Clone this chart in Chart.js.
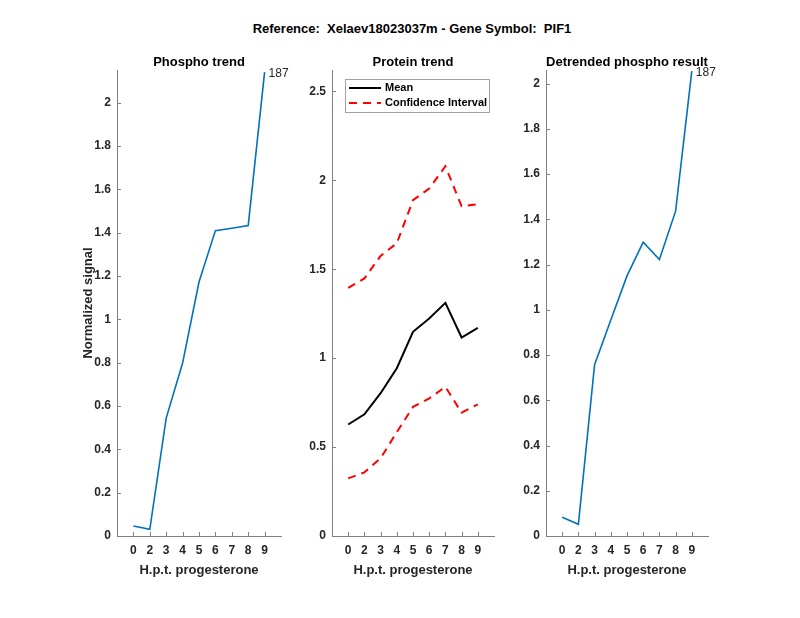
<!DOCTYPE html>
<html>
<head>
<meta charset="utf-8">
<script src="https://cdn.jsdelivr.net/npm/chart.js@4.4.1/dist/chart.umd.min.js"></script>
<style>
	html, body { margin: 0; padding: 0; background: #fff; }
	#fig { position: relative; width: 800px; height: 618px; overflow: hidden; background: #fff; }
	#fig canvas { position: absolute; }
	#supTitle {
		position: absolute; left: 0; width: 824px; top: 21px; text-align: center;
		font: bold 13px "Liberation Sans", Arial, sans-serif; color: #000; white-space: pre;
	}
</style>
</head>
<body>
<div id="fig">
	<div id="supTitle">Reference:  Xelaev18023037m - Gene Symbol:  PIF1</div>
	<canvas id="cPhospho" width="300" height="560" style="left:20px;top:40px"></canvas>
	<canvas id="cProtein" width="220" height="560" style="left:300px;top:40px"></canvas>
	<canvas id="cDetrend" width="270" height="560" style="left:515px;top:40px"></canvas>
</div>
<script>
(function () {
	'use strict';

	// x positions 1..9 on an axis running 0..10, labelled with hours
	var xPos = [1, 2, 3, 4, 5, 6, 7, 8, 9];
	var xLabels = ['0', '2', '3', '4', '5', '6', '7', '8', '9'];

	var phospho = [0.046, 0.031, 0.544, 0.798, 1.172, 1.409, 1.42, 1.432, 2.14];
	var proteinMean = [0.627, 0.684, 0.803, 0.943, 1.148, 1.223, 1.311, 1.116, 1.170];
	var proteinUpper = [1.395, 1.448, 1.575, 1.646, 1.888, 1.953, 2.079, 1.854, 1.865];
	var proteinLower = [0.324, 0.358, 0.437, 0.584, 0.726, 0.773, 0.839, 0.693, 0.740];
	var detrended = [0.083, 0.052, 0.757, 0.955, 1.150, 1.299, 1.222, 1.436, 2.055];
	var peakLabel = '187';

	var phosphoTicks = [0, 0.2, 0.4, 0.6, 0.8, 1, 1.2, 1.4, 1.6, 1.8, 2];
	var proteinTicks = [0, 0.5, 1, 1.5, 2, 2.5];
	var detrendTicks = [0, 0.2, 0.4, 0.6, 0.8, 1, 1.2, 1.4, 1.6, 1.8, 2];

	var FONT = '"Liberation Sans", Arial, sans-serif';
	var AXIS_COLOR = '#808080';
	var TEXT_COLOR = '#262626';
	var BLUE = '#0072BD';

	Chart.defaults.font.family = FONT;
	Chart.defaults.color = TEXT_COLOR;

	function pts(arr) {
		return arr.map(function (v, i) { return { x: xPos[i], y: v }; });
	}

	// inward tick marks + panel title + optional end label + optional legend
	var matlabLook = {
		id: 'matlabLook',
		afterDraw: function (chart, args, opts) {
			var ctx = chart.ctx;
			var area = chart.chartArea;
			var xs = chart.scales.x;
			var ys = chart.scales.y;
			ctx.save();
			ctx.strokeStyle = AXIS_COLOR;
			ctx.lineWidth = 1;
			ctx.beginPath();
			xs.ticks.forEach(function (t) {
				var px = Math.round(xs.getPixelForValue(t.value)) + 0.5;
				ctx.moveTo(px, area.bottom);
				ctx.lineTo(px, area.bottom - 4);
			});
			ys.ticks.forEach(function (t) {
				var py = Math.round(ys.getPixelForValue(t.value)) + 0.5;
				ctx.moveTo(area.left, py);
				ctx.lineTo(area.left + 4, py);
			});
			ctx.stroke();

			ctx.fillStyle = '#000';
			ctx.font = 'bold 13px ' + FONT;
			ctx.textAlign = 'center';
			ctx.textBaseline = 'bottom';
			ctx.fillText(opts.title, (area.left + area.right) / 2, area.top - 1);

			if (opts.endLabel) {
				var meta = chart.getDatasetMeta(0);
				var last = meta.data[meta.data.length - 1];
				ctx.font = '12px ' + FONT;
				ctx.textAlign = 'left';
				ctx.textBaseline = 'middle';
				ctx.fillStyle = TEXT_COLOR;
				ctx.fillText(opts.endLabel, last.x + 4, last.y + 2);
			}

			if (opts.legend) {
				var lx = area.left + 13, ly = area.top + 9, lw = 144, lh = 33;
				ctx.fillStyle = '#fff';
				ctx.fillRect(lx, ly, lw, lh);
				ctx.strokeStyle = '#a0a0a0';
				ctx.strokeRect(lx + 0.5, ly + 0.5, lw, lh);
				ctx.font = 'bold 11px ' + FONT;
				ctx.textAlign = 'left';
				ctx.textBaseline = 'middle';
				opts.legend.forEach(function (item, i) {
					var ds = chart.data.datasets[item.ds];
					var cy = ly + 9 + i * 15;
					ctx.strokeStyle = ds.borderColor;
					ctx.lineWidth = ds.borderWidth;
					ctx.setLineDash(ds.borderDash || []);
					ctx.beginPath();
					ctx.moveTo(lx + 4, cy);
					ctx.lineTo(lx + 36, cy);
					ctx.stroke();
					ctx.setLineDash([]);
					ctx.fillStyle = '#000';
					ctx.fillText(item.text, lx + 40, cy);
				});
			}
			ctx.restore();
		}
	};

	function makePanel(id, datasets, cfg) {
		var el = document.getElementById(id);
		return new Chart(el, {
			type: 'line',
			data: { datasets: datasets },
			plugins: [matlabLook],
			options: {
				responsive: false,
				animation: false,
				layout: { padding: { top: 30, right: cfg.padRight, left: cfg.padLeft || 0, bottom: 22 } },
				elements: { point: { radius: 0 }, line: { tension: 0 } },
				plugins: {
					legend: { display: false },
					tooltip: { enabled: false },
					matlabLook: { title: cfg.title, endLabel: cfg.endLabel, legend: cfg.legend },
				},
				scales: {
					x: {
						type: 'linear',
						min: 0,
						max: 10,
						afterBuildTicks: function (s) {
							s.ticks = xPos.map(function (v) { return { value: v }; });
						},
						afterFit: function (s) { s.height = 42; },
						grid: { display: false, drawTicks: false },
						border: { display: true, color: AXIS_COLOR, width: 1 },
						ticks: {
							padding: 7,
							maxRotation: 0,
							font: { size: 12, weight: 'bold' },
							color: TEXT_COLOR,
							callback: function (v) { return xLabels[xPos.indexOf(v)]; },
						},
						title: {
							display: true,
							text: 'H.p.t. progesterone',
							font: { size: 13, weight: 'bold' },
							color: TEXT_COLOR,
							padding: { top: 1, bottom: 0 },
						},
					},
					y: {
						type: 'linear',
						min: 0,
						max: cfg.yMax,
						afterBuildTicks: function (s) {
							s.ticks = cfg.yTicks.map(function (v) { return { value: v }; });
						},
						afterFit: function (s) { s.width = cfg.yWidth; },
						grid: { display: false, drawTicks: false },
						border: { display: true, color: AXIS_COLOR, width: 1 },
						ticks: {
							padding: 6,
							font: { size: 12, weight: 'bold' },
							color: TEXT_COLOR,
							callback: function (v) { return String(v); },
						},
						title: {
							display: !!cfg.yTitle,
							text: cfg.yTitle || '',
							font: { size: 13, weight: 'bold' },
							color: TEXT_COLOR,
							padding: { top: 0, bottom: 0 },
						},
					},
				},
			},
		});
	}

	makePanel('cPhospho', [{
		label: 'Phospho',
		data: pts(phospho),
		borderColor: BLUE,
		borderWidth: 1.6,
	}], {
		title: 'Phospho trend', yMax: 2.15, yTicks: phosphoTicks,
		padLeft: 61, yWidth: 36, padRight: 39, endLabel: peakLabel, yTitle: 'Normalized signal',
	});

	makePanel('cProtein', [{
		label: 'Mean',
		data: pts(proteinMean),
		borderColor: '#000000',
		borderWidth: 2,
	}, {
		label: 'Confidence Interval',
		data: pts(proteinUpper),
		borderColor: '#ff0000',
		borderWidth: 2,
		borderDash: [8, 6],
	}, {
		label: 'Confidence Interval (low)',
		data: pts(proteinLower),
		borderColor: '#ff0000',
		borderWidth: 2,
		borderDash: [8, 6],
	}], {
		title: 'Protein trend', yMax: 2.62, yTicks: proteinTicks,
		yWidth: 32, padRight: 26,
		legend: [{ ds: 0, text: 'Mean' }, { ds: 1, text: 'Confidence Interval' }],
	});

	makePanel('cDetrend', [{
		label: 'Detrended',
		data: pts(detrended),
		borderColor: BLUE,
		borderWidth: 1.6,
	}], {
		title: 'Detrended phospho result', yMax: 2.06, yTicks: detrendTicks,
		yWidth: 31, padRight: 77, endLabel: peakLabel,
	});
})();
</script>
</body>
</html>
